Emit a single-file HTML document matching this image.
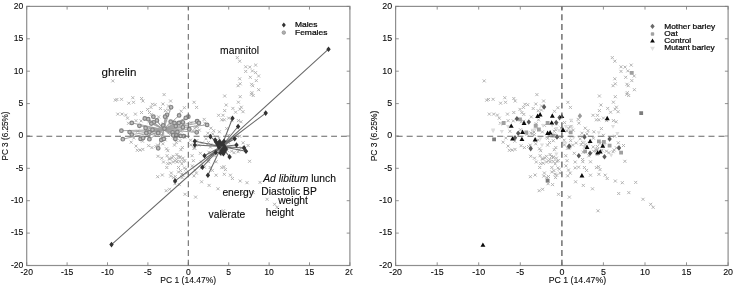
<!DOCTYPE html>
<html><head><meta charset="utf-8"><title>PCA score plots</title>
<style>
html,body{margin:0;padding:0;background:#fff}
svg{display:block}
text{font-family:"Liberation Sans",Arial,sans-serif;fill:#0a0a0a;stroke:#0a0a0a;stroke-width:0.1px}
.t{font-size:7.8px}
.a{font-size:8.4px}
.l{font-size:8.45px;stroke-width:0.25px}
.n{font-size:10.3px}
</style></head><body>
<svg width="736" height="287" viewBox="0 0 736 287">
<rect width="736" height="287" fill="#fff"/>
<path d="M235.8 56.1l3.0 3.0m0 -3.0l-3.0 3.0M238.2 59.7l3.0 3.0m0 -3.0l-3.0 3.0M244.2 65.3l3.0 3.0m0 -3.0l-3.0 3.0M248.3 65.6l3.0 3.0m0 -3.0l-3.0 3.0M254.1 63.6l3.0 3.0m0 -3.0l-3.0 3.0M244.2 69.9l3.0 3.0m0 -3.0l-3.0 3.0M250.9 69.4l3.0 3.0m0 -3.0l-3.0 3.0M254.1 71.1l3.0 3.0m0 -3.0l-3.0 3.0M257.1 74.5l3.0 3.0m0 -3.0l-3.0 3.0M238.2 77.3l3.0 3.0m0 -3.0l-3.0 3.0M248.8 75.8l3.0 3.0m0 -3.0l-3.0 3.0M254.8 79.1l3.0 3.0m0 -3.0l-3.0 3.0M238.7 82.3l3.0 3.0m0 -3.0l-3.0 3.0M236.6 84.2l3.0 3.0m0 -3.0l-3.0 3.0M250.1 82.8l3.0 3.0m0 -3.0l-3.0 3.0M251.2 84.2l3.0 3.0m0 -3.0l-3.0 3.0M257.2 88.2l3.0 3.0m0 -3.0l-3.0 3.0M250.4 91.2l3.0 3.0m0 -3.0l-3.0 3.0M249.9 92.8l3.0 3.0m0 -3.0l-3.0 3.0M251.7 94.0l3.0 3.0m0 -3.0l-3.0 3.0M223.2 94.5l3.0 3.0m0 -3.0l-3.0 3.0M238.7 95.2l3.0 3.0m0 -3.0l-3.0 3.0M236.9 100.7l3.0 3.0m0 -3.0l-3.0 3.0M224.7 103.5l3.0 3.0m0 -3.0l-3.0 3.0M239.8 105.7l3.0 3.0m0 -3.0l-3.0 3.0M231.4 106.9l3.0 3.0m0 -3.0l-3.0 3.0M238.5 107.7l3.0 3.0m0 -3.0l-3.0 3.0M223.2 109.1l3.0 3.0m0 -3.0l-3.0 3.0M241.5 110.2l3.0 3.0m0 -3.0l-3.0 3.0M234.1 110.7l3.0 3.0m0 -3.0l-3.0 3.0M217.1 113.8l3.0 3.0m0 -3.0l-3.0 3.0M221.5 113.8l3.0 3.0m0 -3.0l-3.0 3.0M227.2 116.6l3.0 3.0m0 -3.0l-3.0 3.0M220.3 118.3l3.0 3.0m0 -3.0l-3.0 3.0M222.8 118.3l3.0 3.0m0 -3.0l-3.0 3.0M236.9 119.1l3.0 3.0m0 -3.0l-3.0 3.0M239.5 120.3l3.0 3.0m0 -3.0l-3.0 3.0M230.4 119.1l3.0 3.0m0 -3.0l-3.0 3.0M225.2 127.1l3.0 3.0m0 -3.0l-3.0 3.0M217.9 130.3l3.0 3.0m0 -3.0l-3.0 3.0M212.2 129.2l3.0 3.0m0 -3.0l-3.0 3.0M227.2 133.8l3.0 3.0m0 -3.0l-3.0 3.0M238.2 134.7l3.0 3.0m0 -3.0l-3.0 3.0M230.1 149.7l3.0 3.0m0 -3.0l-3.0 3.0M214.6 160.3l3.0 3.0m0 -3.0l-3.0 3.0M220.3 166.1l3.0 3.0m0 -3.0l-3.0 3.0M223.9 168.1l3.0 3.0m0 -3.0l-3.0 3.0M214.6 173.7l3.0 3.0m0 -3.0l-3.0 3.0M222.8 172.8l3.0 3.0m0 -3.0l-3.0 3.0M228.9 173.7l3.0 3.0m0 -3.0l-3.0 3.0M230.9 177.0l3.0 3.0m0 -3.0l-3.0 3.0M238.7 179.5l3.0 3.0m0 -3.0l-3.0 3.0M245.5 181.2l3.0 3.0m0 -3.0l-3.0 3.0M258.5 180.9l3.0 3.0m0 -3.0l-3.0 3.0M111.3 79.4l3.0 3.0m0 -3.0l-3.0 3.0M113.8 98.7l3.0 3.0m0 -3.0l-3.0 3.0M115.4 98.0l3.0 3.0m0 -3.0l-3.0 3.0M120.0 97.8l3.0 3.0m0 -3.0l-3.0 3.0M127.3 101.7l3.0 3.0m0 -3.0l-3.0 3.0M131.3 96.2l3.0 3.0m0 -3.0l-3.0 3.0M132.0 100.8l3.0 3.0m0 -3.0l-3.0 3.0M140.1 97.0l3.0 3.0m0 -3.0l-3.0 3.0M141.4 99.5l3.0 3.0m0 -3.0l-3.0 3.0M162.6 93.1l3.0 3.0m0 -3.0l-3.0 3.0M150.9 102.8l3.0 3.0m0 -3.0l-3.0 3.0M153.6 103.2l3.0 3.0m0 -3.0l-3.0 3.0M161.4 102.5l3.0 3.0m0 -3.0l-3.0 3.0M169.1 99.5l3.0 3.0m0 -3.0l-3.0 3.0M192.6 100.8l3.0 3.0m0 -3.0l-3.0 3.0M195.1 105.9l3.0 3.0m0 -3.0l-3.0 3.0M149.5 105.9l3.0 3.0m0 -3.0l-3.0 3.0M167.1 104.5l3.0 3.0m0 -3.0l-3.0 3.0M182.9 106.2l3.0 3.0m0 -3.0l-3.0 3.0M116.3 112.6l3.0 3.0m0 -3.0l-3.0 3.0M120.5 112.6l3.0 3.0m0 -3.0l-3.0 3.0M124.2 113.6l3.0 3.0m0 -3.0l-3.0 3.0M126.0 116.7l3.0 3.0m0 -3.0l-3.0 3.0M133.9 112.6l3.0 3.0m0 -3.0l-3.0 3.0M140.0 111.0l3.0 3.0m0 -3.0l-3.0 3.0M146.1 107.9l3.0 3.0m0 -3.0l-3.0 3.0M158.9 107.0l3.0 3.0m0 -3.0l-3.0 3.0M163.8 109.2l3.0 3.0m0 -3.0l-3.0 3.0M166.9 108.5l3.0 3.0m0 -3.0l-3.0 3.0M179.7 109.8l3.0 3.0m0 -3.0l-3.0 3.0M149.8 112.9l3.0 3.0m0 -3.0l-3.0 3.0M148.0 111.0l3.0 3.0m0 -3.0l-3.0 3.0M157.1 115.4l3.0 3.0m0 -3.0l-3.0 3.0M134.5 119.2l3.0 3.0m0 -3.0l-3.0 3.0M189.4 121.1l3.0 3.0m0 -3.0l-3.0 3.0M129.7 140.7l3.0 3.0m0 -3.0l-3.0 3.0M134.5 144.6l3.0 3.0m0 -3.0l-3.0 3.0M135.8 148.8l3.0 3.0m0 -3.0l-3.0 3.0M138.5 148.6l3.0 3.0m0 -3.0l-3.0 3.0M141.3 147.9l3.0 3.0m0 -3.0l-3.0 3.0M150.4 146.1l3.0 3.0m0 -3.0l-3.0 3.0M161.4 142.3l3.0 3.0m0 -3.0l-3.0 3.0M165.0 147.3l3.0 3.0m0 -3.0l-3.0 3.0M166.3 149.2l3.0 3.0m0 -3.0l-3.0 3.0M173.0 143.6l3.0 3.0m0 -3.0l-3.0 3.0M174.8 141.0l3.0 3.0m0 -3.0l-3.0 3.0M178.4 139.2l3.0 3.0m0 -3.0l-3.0 3.0M180.9 146.1l3.0 3.0m0 -3.0l-3.0 3.0M156.5 154.8l3.0 3.0m0 -3.0l-3.0 3.0M160.2 156.7l3.0 3.0m0 -3.0l-3.0 3.0M165.6 154.2l3.0 3.0m0 -3.0l-3.0 3.0M168.7 157.4l3.0 3.0m0 -3.0l-3.0 3.0M171.7 154.8l3.0 3.0m0 -3.0l-3.0 3.0M175.4 153.0l3.0 3.0m0 -3.0l-3.0 3.0M178.4 155.5l3.0 3.0m0 -3.0l-3.0 3.0M181.5 156.7l3.0 3.0m0 -3.0l-3.0 3.0M183.3 159.2l3.0 3.0m0 -3.0l-3.0 3.0M162.0 160.5l3.0 3.0m0 -3.0l-3.0 3.0M166.3 162.1l3.0 3.0m0 -3.0l-3.0 3.0M168.7 161.7l3.0 3.0m0 -3.0l-3.0 3.0M173.6 159.2l3.0 3.0m0 -3.0l-3.0 3.0M178.4 159.9l3.0 3.0m0 -3.0l-3.0 3.0M180.3 162.4l3.0 3.0m0 -3.0l-3.0 3.0M190.6 154.2l3.0 3.0m0 -3.0l-3.0 3.0M191.9 159.2l3.0 3.0m0 -3.0l-3.0 3.0M156.2 175.2l3.0 3.0m0 -3.0l-3.0 3.0M165.3 166.0l3.0 3.0m0 -3.0l-3.0 3.0M181.9 159.8l3.0 3.0m0 -3.0l-3.0 3.0M177.0 166.0l3.0 3.0m0 -3.0l-3.0 3.0M184.3 167.7l3.0 3.0m0 -3.0l-3.0 3.0M177.0 170.5l3.0 3.0m0 -3.0l-3.0 3.0M180.3 172.7l3.0 3.0m0 -3.0l-3.0 3.0M185.1 171.6l3.0 3.0m0 -3.0l-3.0 3.0M172.1 176.1l3.0 3.0m0 -3.0l-3.0 3.0M180.6 176.1l3.0 3.0m0 -3.0l-3.0 3.0M177.8 183.1l3.0 3.0m0 -3.0l-3.0 3.0M168.1 187.8l3.0 3.0m0 -3.0l-3.0 3.0M183.5 192.8l3.0 3.0m0 -3.0l-3.0 3.0M194.1 195.6l3.0 3.0m0 -3.0l-3.0 3.0M199.8 160.5l3.0 3.0m0 -3.0l-3.0 3.0M207.1 160.2l3.0 3.0m0 -3.0l-3.0 3.0M190.8 164.4l3.0 3.0m0 -3.0l-3.0 3.0M193.3 168.5l3.0 3.0m0 -3.0l-3.0 3.0M194.9 171.6l3.0 3.0m0 -3.0l-3.0 3.0M192.5 174.4l3.0 3.0m0 -3.0l-3.0 3.0M199.8 166.4l3.0 3.0m0 -3.0l-3.0 3.0M203.0 165.7l3.0 3.0m0 -3.0l-3.0 3.0M208.7 166.0l3.0 3.0m0 -3.0l-3.0 3.0M210.8 168.9l3.0 3.0m0 -3.0l-3.0 3.0M222.5 165.2l3.0 3.0m0 -3.0l-3.0 3.0M200.1 180.3l3.0 3.0m0 -3.0l-3.0 3.0M207.6 183.9l3.0 3.0m0 -3.0l-3.0 3.0M216.5 187.3l3.0 3.0m0 -3.0l-3.0 3.0M242.1 192.0l3.0 3.0m0 -3.0l-3.0 3.0M251.8 191.1l3.0 3.0m0 -3.0l-3.0 3.0M265.6 197.8l3.0 3.0m0 -3.0l-3.0 3.0M273.1 202.8l3.0 3.0m0 -3.0l-3.0 3.0M275.6 205.8l3.0 3.0m0 -3.0l-3.0 3.0M170.6 156.3l3.0 3.0m0 -3.0l-3.0 3.0M176.7 155.0l3.0 3.0m0 -3.0l-3.0 3.0M202.7 117.9l3.0 3.0m0 -3.0l-3.0 3.0M203.3 121.7l3.0 3.0m0 -3.0l-3.0 3.0M196.0 119.2l3.0 3.0m0 -3.0l-3.0 3.0M194.8 125.5l3.0 3.0m0 -3.0l-3.0 3.0M197.8 128.6l3.0 3.0m0 -3.0l-3.0 3.0M209.4 126.7l3.0 3.0m0 -3.0l-3.0 3.0M206.4 131.7l3.0 3.0m0 -3.0l-3.0 3.0M206.9 158.0l3.0 3.0m0 -3.0l-3.0 3.0M206.9 141.0l3.0 3.0m0 -3.0l-3.0 3.0M204.5 137.3l3.0 3.0m0 -3.0l-3.0 3.0M221.9 209.3l3.0 3.0m0 -3.0l-3.0 3.0M164.1 118.3l3.0 3.0m0 -3.0l-3.0 3.0M147.5 120.3l3.0 3.0m0 -3.0l-3.0 3.0M158.4 130.0l3.0 3.0m0 -3.0l-3.0 3.0M193.2 126.7l3.0 3.0m0 -3.0l-3.0 3.0M161.8 122.3l3.0 3.0m0 -3.0l-3.0 3.0M180.7 128.2l3.0 3.0m0 -3.0l-3.0 3.0M172.0 135.5l3.0 3.0m0 -3.0l-3.0 3.0M156.6 131.4l3.0 3.0m0 -3.0l-3.0 3.0M141.0 139.7l3.0 3.0m0 -3.0l-3.0 3.0M136.3 129.8l3.0 3.0m0 -3.0l-3.0 3.0M159.8 130.5l3.0 3.0m0 -3.0l-3.0 3.0M163.7 138.4l3.0 3.0m0 -3.0l-3.0 3.0M161.3 126.1l3.0 3.0m0 -3.0l-3.0 3.0M174.7 134.6l3.0 3.0m0 -3.0l-3.0 3.0M156.1 143.6l3.0 3.0m0 -3.0l-3.0 3.0M154.4 145.0l3.0 3.0m0 -3.0l-3.0 3.0M139.6 119.4l3.0 3.0m0 -3.0l-3.0 3.0M127.0 121.8l3.0 3.0m0 -3.0l-3.0 3.0M167.8 130.4l3.0 3.0m0 -3.0l-3.0 3.0M170.0 123.9l3.0 3.0m0 -3.0l-3.0 3.0M179.4 129.8l3.0 3.0m0 -3.0l-3.0 3.0M153.0 132.7l3.0 3.0m0 -3.0l-3.0 3.0M146.6 128.3l3.0 3.0m0 -3.0l-3.0 3.0M149.8 119.7l3.0 3.0m0 -3.0l-3.0 3.0M132.3 136.5l3.0 3.0m0 -3.0l-3.0 3.0M147.1 144.2l3.0 3.0m0 -3.0l-3.0 3.0M193.3 146.7l3.0 3.0m0 -3.0l-3.0 3.0M158.0 132.1l3.0 3.0m0 -3.0l-3.0 3.0M189.3 143.4l3.0 3.0m0 -3.0l-3.0 3.0M179.9 133.7l3.0 3.0m0 -3.0l-3.0 3.0M160.0 133.2l3.0 3.0m0 -3.0l-3.0 3.0M172.9 136.8l3.0 3.0m0 -3.0l-3.0 3.0M161.3 125.2l3.0 3.0m0 -3.0l-3.0 3.0M192.3 146.7l3.0 3.0m0 -3.0l-3.0 3.0M241.6 141.3l3.0 3.0m0 -3.0l-3.0 3.0M217.3 145.4l3.0 3.0m0 -3.0l-3.0 3.0M217.5 136.7l3.0 3.0m0 -3.0l-3.0 3.0M225.7 148.8l3.0 3.0m0 -3.0l-3.0 3.0M220.4 148.7l3.0 3.0m0 -3.0l-3.0 3.0M221.0 153.1l3.0 3.0m0 -3.0l-3.0 3.0M248.1 159.8l3.0 3.0m0 -3.0l-3.0 3.0M179.4 148.2l3.0 3.0m0 -3.0l-3.0 3.0M221.4 145.0l3.0 3.0m0 -3.0l-3.0 3.0M220.7 148.4l3.0 3.0m0 -3.0l-3.0 3.0M227.2 141.1l3.0 3.0m0 -3.0l-3.0 3.0M217.7 149.8l3.0 3.0m0 -3.0l-3.0 3.0M246.6 144.0l3.0 3.0m0 -3.0l-3.0 3.0M211.2 132.4l3.0 3.0m0 -3.0l-3.0 3.0M232.5 151.2l3.0 3.0m0 -3.0l-3.0 3.0M208.9 145.5l3.0 3.0m0 -3.0l-3.0 3.0M213.0 154.3l3.0 3.0m0 -3.0l-3.0 3.0M207.4 150.7l3.0 3.0m0 -3.0l-3.0 3.0M236.6 150.2l3.0 3.0m0 -3.0l-3.0 3.0M205.6 143.1l3.0 3.0m0 -3.0l-3.0 3.0M223.9 141.9l3.0 3.0m0 -3.0l-3.0 3.0M237.7 148.5l3.0 3.0m0 -3.0l-3.0 3.0M221.4 147.7l3.0 3.0m0 -3.0l-3.0 3.0M209.4 143.1l3.0 3.0m0 -3.0l-3.0 3.0M239.8 146.3l3.0 3.0m0 -3.0l-3.0 3.0M220.3 149.1l3.0 3.0m0 -3.0l-3.0 3.0M169.2 174.6l3.0 3.0m0 -3.0l-3.0 3.0M173.8 175.0l3.0 3.0m0 -3.0l-3.0 3.0M173.4 182.2l3.0 3.0m0 -3.0l-3.0 3.0M182.9 166.4l3.0 3.0m0 -3.0l-3.0 3.0M164.7 189.2l3.0 3.0m0 -3.0l-3.0 3.0M178.6 156.1l3.0 3.0m0 -3.0l-3.0 3.0M169.8 171.5l3.0 3.0m0 -3.0l-3.0 3.0M171.8 160.5l3.0 3.0m0 -3.0l-3.0 3.0M167.6 157.3l3.0 3.0m0 -3.0l-3.0 3.0M175.0 157.9l3.0 3.0m0 -3.0l-3.0 3.0M179.1 169.1l3.0 3.0m0 -3.0l-3.0 3.0M160.8 173.5l3.0 3.0m0 -3.0l-3.0 3.0M175.5 160.4l3.0 3.0m0 -3.0l-3.0 3.0M181.7 173.6l3.0 3.0m0 -3.0l-3.0 3.0M195.8 124.9l3.0 3.0m0 -3.0l-3.0 3.0M189.0 138.7l3.0 3.0m0 -3.0l-3.0 3.0M186.0 126.6l3.0 3.0m0 -3.0l-3.0 3.0M197.3 143.5l3.0 3.0m0 -3.0l-3.0 3.0M195.4 139.1l3.0 3.0m0 -3.0l-3.0 3.0M181.7 122.4l3.0 3.0m0 -3.0l-3.0 3.0M200.8 141.5l3.0 3.0m0 -3.0l-3.0 3.0M191.8 129.6l3.0 3.0m0 -3.0l-3.0 3.0M183.1 135.6l3.0 3.0m0 -3.0l-3.0 3.0M198.9 151.8l3.0 3.0m0 -3.0l-3.0 3.0" stroke="#b0b0b0" stroke-width="0.95" fill="none"/>
<path d="M163.6 129.6L171.1 107.3M163.6 129.6L153.4 116.7M163.6 129.6L167.0 114.8M163.6 129.6L165.1 116.7M163.6 129.6L179.1 115.4M163.6 129.6L188.3 116.7M163.6 129.6L185.8 117.9M163.6 129.6L144.8 118.5M163.6 129.6L148.2 119.2M163.6 129.6L156.9 120.4M163.6 129.6L153.8 122.3M163.6 129.6L170.7 121.7M163.6 129.6L174.5 122.9M163.6 129.6L178.9 122.9M163.6 129.6L182.9 122.3M163.6 129.6L197.1 121.1M163.6 129.6L131.8 122.9M163.6 129.6L139.4 125.8M163.6 129.6L151.3 123.6M163.6 129.6L163.2 125.4M163.6 129.6L175.8 126.1M163.6 129.6L145.6 128.0M163.6 129.6L164.5 128.6M163.6 129.6L182.9 127.3M163.6 129.6L121.4 130.7M163.6 129.6L129.6 132.1M163.6 129.6L131.8 134.6M163.6 129.6L152.5 129.8M163.6 129.6L158.2 133.0M163.6 129.6L149.4 132.3M163.6 129.6L146.3 133.0M163.6 129.6L172.6 132.3M163.6 129.6L177.4 132.0M163.6 129.6L189.3 129.2M163.6 129.6L196.7 132.3M163.6 129.6L173.2 135.2M163.6 129.6L176.4 135.5M163.6 129.6L180.5 135.9M163.6 129.6L183.9 136.1M163.6 129.6L122.8 139.2M163.6 129.6L140.6 138.9M163.6 129.6L143.1 138.0M163.6 129.6L149.4 139.2M163.6 129.6L161.3 139.9M163.6 129.6L163.8 138.9M163.6 129.6L175.4 138.9M163.6 129.6L158.2 148.3M163.6 129.6L198.9 123.0M163.6 129.6L207.1 124.9" stroke="#9c9c9c" stroke-width="0.9" fill="none"/>
<g fill="#bcbcbc" stroke="#828282" stroke-width="1.2"><circle cx="171.1" cy="107.3" r="1.8"/><circle cx="153.4" cy="116.7" r="1.8"/><circle cx="167.0" cy="114.8" r="1.8"/><circle cx="165.1" cy="116.7" r="1.8"/><circle cx="179.1" cy="115.4" r="1.8"/><circle cx="188.3" cy="116.7" r="1.8"/><circle cx="185.8" cy="117.9" r="1.8"/><circle cx="144.8" cy="118.5" r="1.8"/><circle cx="148.2" cy="119.2" r="1.8"/><circle cx="156.9" cy="120.4" r="1.8"/><circle cx="153.8" cy="122.3" r="1.8"/><circle cx="170.7" cy="121.7" r="1.8"/><circle cx="174.5" cy="122.9" r="1.8"/><circle cx="178.9" cy="122.9" r="1.8"/><circle cx="182.9" cy="122.3" r="1.8"/><circle cx="197.1" cy="121.1" r="1.8"/><circle cx="131.8" cy="122.9" r="1.8"/><circle cx="139.4" cy="125.8" r="1.8"/><circle cx="151.3" cy="123.6" r="1.8"/><circle cx="163.2" cy="125.4" r="1.8"/><circle cx="175.8" cy="126.1" r="1.8"/><circle cx="145.6" cy="128.0" r="1.8"/><circle cx="164.5" cy="128.6" r="1.8"/><circle cx="182.9" cy="127.3" r="1.8"/><circle cx="121.4" cy="130.7" r="1.8"/><circle cx="129.6" cy="132.1" r="1.8"/><circle cx="131.8" cy="134.6" r="1.8"/><circle cx="152.5" cy="129.8" r="1.8"/><circle cx="158.2" cy="133.0" r="1.8"/><circle cx="149.4" cy="132.3" r="1.8"/><circle cx="146.3" cy="133.0" r="1.8"/><circle cx="172.6" cy="132.3" r="1.8"/><circle cx="177.4" cy="132.0" r="1.8"/><circle cx="189.3" cy="129.2" r="1.8"/><circle cx="196.7" cy="132.3" r="1.8"/><circle cx="173.2" cy="135.2" r="1.8"/><circle cx="176.4" cy="135.5" r="1.8"/><circle cx="180.5" cy="135.9" r="1.8"/><circle cx="183.9" cy="136.1" r="1.8"/><circle cx="122.8" cy="139.2" r="1.8"/><circle cx="140.6" cy="138.9" r="1.8"/><circle cx="143.1" cy="138.0" r="1.8"/><circle cx="149.4" cy="139.2" r="1.8"/><circle cx="161.3" cy="139.9" r="1.8"/><circle cx="163.8" cy="138.9" r="1.8"/><circle cx="175.4" cy="138.9" r="1.8"/><circle cx="158.2" cy="148.3" r="1.8"/><circle cx="198.9" cy="123.0" r="1.8"/><circle cx="207.1" cy="124.9" r="1.8"/></g>
<path d="M221.5 146.5L328.5 49.2M221.5 146.5L111.5 244.6M221.5 146.5L232.5 118.3M221.5 146.5L238.1 126.5M221.5 146.5L265.7 113.1M221.5 146.5L210.4 136.6M221.5 146.5L234.7 138.7M221.5 146.5L215.2 140.0M221.5 146.5L215.8 141.8M221.5 146.5L194.8 141.2M221.5 146.5L194.8 145.0M221.5 146.5L224.0 141.2M221.5 146.5L222.7 143.1M221.5 146.5L236.5 145.0M221.5 146.5L244.1 147.9M221.5 146.5L246.0 151.2M221.5 146.5L224.6 151.4M221.5 146.5L223.4 148.7M221.5 146.5L229.6 156.9M221.5 146.5L204.5 155.7M221.5 146.5L215.8 152.5M221.5 146.5L223.4 153.8M221.5 146.5L202.4 167.2M221.5 146.5L207.9 175.2M221.5 146.5L175.1 180.9M221.5 146.5L219.6 141.6M221.5 146.5L221.2 144.2M221.5 146.5L219.0 147.2M221.5 146.5L224.2 146.0M221.5 146.5L222.0 150.2M221.5 146.5L226.0 149.0M221.5 146.5L217.5 144.5M221.5 146.5L220.5 153.0" stroke="#6a6a6a" stroke-width="1.05" fill="none"/>
<path d="M328.5 46.4l2.2 2.8l-2.2 2.8l-2.2 -2.8zM111.5 241.8l2.2 2.8l-2.2 2.8l-2.2 -2.8zM232.5 115.5l2.2 2.8l-2.2 2.8l-2.2 -2.8zM238.1 123.7l2.2 2.8l-2.2 2.8l-2.2 -2.8zM265.7 110.3l2.2 2.8l-2.2 2.8l-2.2 -2.8zM210.4 133.8l2.2 2.8l-2.2 2.8l-2.2 -2.8zM234.7 135.9l2.2 2.8l-2.2 2.8l-2.2 -2.8zM215.2 137.2l2.2 2.8l-2.2 2.8l-2.2 -2.8zM215.8 139.0l2.2 2.8l-2.2 2.8l-2.2 -2.8zM194.8 138.4l2.2 2.8l-2.2 2.8l-2.2 -2.8zM194.8 142.2l2.2 2.8l-2.2 2.8l-2.2 -2.8zM224.0 138.4l2.2 2.8l-2.2 2.8l-2.2 -2.8zM222.7 140.3l2.2 2.8l-2.2 2.8l-2.2 -2.8zM236.5 142.2l2.2 2.8l-2.2 2.8l-2.2 -2.8zM244.1 145.1l2.2 2.8l-2.2 2.8l-2.2 -2.8zM246.0 148.4l2.2 2.8l-2.2 2.8l-2.2 -2.8zM224.6 148.6l2.2 2.8l-2.2 2.8l-2.2 -2.8zM223.4 145.9l2.2 2.8l-2.2 2.8l-2.2 -2.8zM229.6 154.1l2.2 2.8l-2.2 2.8l-2.2 -2.8zM204.5 152.9l2.2 2.8l-2.2 2.8l-2.2 -2.8zM215.8 149.7l2.2 2.8l-2.2 2.8l-2.2 -2.8zM223.4 151.0l2.2 2.8l-2.2 2.8l-2.2 -2.8zM202.4 164.4l2.2 2.8l-2.2 2.8l-2.2 -2.8zM207.9 172.4l2.2 2.8l-2.2 2.8l-2.2 -2.8zM175.1 178.1l2.2 2.8l-2.2 2.8l-2.2 -2.8zM219.6 138.8l2.2 2.8l-2.2 2.8l-2.2 -2.8zM221.2 141.4l2.2 2.8l-2.2 2.8l-2.2 -2.8zM219.0 144.4l2.2 2.8l-2.2 2.8l-2.2 -2.8zM224.2 143.2l2.2 2.8l-2.2 2.8l-2.2 -2.8zM222.0 147.4l2.2 2.8l-2.2 2.8l-2.2 -2.8zM226.0 146.2l2.2 2.8l-2.2 2.8l-2.2 -2.8zM217.5 141.7l2.2 2.8l-2.2 2.8l-2.2 -2.8zM220.5 150.2l2.2 2.8l-2.2 2.8l-2.2 -2.8z" fill="#333"/>
<rect x="26.7" y="6.4" width="323.2" height="259.1" fill="none" stroke="#8e8e8e" stroke-width="1.2"/><path d="M26.7 265.5v-3.2M26.7 6.4v3.2M26.7 265.5h3.2M349.9 265.5h-3.2M67.1 265.5v-3.2M67.1 6.4v3.2M26.7 233.1h3.2M349.9 233.1h-3.2M107.5 265.5v-3.2M107.5 6.4v3.2M26.7 200.7h3.2M349.9 200.7h-3.2M147.9 265.5v-3.2M147.9 6.4v3.2M26.7 168.3h3.2M349.9 168.3h-3.2M188.3 265.5v-3.2M188.3 6.4v3.2M26.7 136.0h3.2M349.9 136.0h-3.2M228.7 265.5v-3.2M228.7 6.4v3.2M26.7 103.6h3.2M349.9 103.6h-3.2M269.1 265.5v-3.2M269.1 6.4v3.2M26.7 71.2h3.2M349.9 71.2h-3.2M309.5 265.5v-3.2M309.5 6.4v3.2M26.7 38.8h3.2M349.9 38.8h-3.2M349.9 265.5v-3.2M349.9 6.4v3.2M26.7 6.4h3.2M349.9 6.4h-3.2" stroke="#808080" stroke-width="0.85" fill="none"/><path d="M26.7 136.3H349.9" stroke="#666" stroke-width="1.05" stroke-dasharray="5.9 3.92" stroke-dashoffset="0" fill="none"/><path d="M188.3 6.4V265.5" stroke="#666" stroke-width="1.05" stroke-dasharray="5.9 3.92" stroke-dashoffset="1.92" fill="none"/><text x="26.7" y="275.4" text-anchor="middle" style="font-size:8.6px">-20</text><text x="23.3" y="267.8" text-anchor="end" style="font-size:8.6px">-20</text><text x="67.1" y="275.4" text-anchor="middle" style="font-size:8.6px">-15</text><text x="23.3" y="235.4" text-anchor="end" style="font-size:8.6px">-15</text><text x="107.5" y="275.4" text-anchor="middle" style="font-size:8.6px">-10</text><text x="23.3" y="203.0" text-anchor="end" style="font-size:8.6px">-10</text><text x="147.9" y="275.4" text-anchor="middle" style="font-size:8.6px">-5</text><text x="23.3" y="170.6" text-anchor="end" style="font-size:8.6px">-5</text><text x="188.3" y="275.4" text-anchor="middle" style="font-size:8.6px">0</text><text x="23.3" y="138.3" text-anchor="end" style="font-size:8.6px">0</text><text x="228.7" y="275.4" text-anchor="middle" style="font-size:8.6px">5</text><text x="23.3" y="105.9" text-anchor="end" style="font-size:8.6px">5</text><text x="269.1" y="275.4" text-anchor="middle" style="font-size:8.6px">10</text><text x="23.3" y="73.5" text-anchor="end" style="font-size:8.6px">10</text><text x="309.5" y="275.4" text-anchor="middle" style="font-size:8.6px">15</text><text x="23.3" y="41.1" text-anchor="end" style="font-size:8.6px">15</text><text x="349.9" y="275.4" text-anchor="middle" style="font-size:8.6px">20</text><text x="23.3" y="8.7" text-anchor="end" style="font-size:8.6px">20</text><text x="188.2" y="283.1" text-anchor="middle" style="font-size:8.5px">PC 1 (14.47%)</text><text transform="translate(8.3 136.0) rotate(-90)" text-anchor="middle" style="font-size:8.20px">PC 3 (6.25%)</text>
<rect x="352.5" y="267" width="12" height="12" fill="#fff"/>
<path d="M283.8 22.4l2.0 2.5l-2.0 2.5l-2.0 -2.5z" fill="#333"/>
<circle cx="283.8" cy="32.6" r="1.7" fill="#b0b0b0" stroke="#909090" stroke-width="0.9"/>
<text transform="translate(295 26.7) scale(1 .95)" class="l">Males</text><text transform="translate(295 34.6) scale(1 .95)" class="l">Females</text>
<text x="101.6" y="75.9" style="font-size:11.6px" class="n">ghrelin</text>
<text x="220.1" y="54.1" style="font-size:10.3px" class="n">mannitol</text>
<text x="263.2" y="182.2" class="n"><tspan font-style="italic">Ad libitum</tspan> lunch</text>
<text x="261.3" y="194.9" class="n">Diastolic BP</text>
<text x="278.2" y="203.6" class="n">weight</text>
<text x="265.8" y="216.1" class="n">height</text>
<text x="222.4" y="195.9" class="n">energy</text>
<text x="208.6" y="218.1" class="n">valerate</text>
<path d="M610.8 56.1l3.0 3.0m0 -3.0l-3.0 3.0M613.3 59.7l3.0 3.0m0 -3.0l-3.0 3.0M619.5 65.3l3.0 3.0m0 -3.0l-3.0 3.0M623.6 65.6l3.0 3.0m0 -3.0l-3.0 3.0M629.7 63.6l3.0 3.0m0 -3.0l-3.0 3.0M619.5 69.9l3.0 3.0m0 -3.0l-3.0 3.0M626.3 69.4l3.0 3.0m0 -3.0l-3.0 3.0M629.7 71.1l3.0 3.0m0 -3.0l-3.0 3.0M632.7 74.5l3.0 3.0m0 -3.0l-3.0 3.0M613.3 77.3l3.0 3.0m0 -3.0l-3.0 3.0M624.2 75.8l3.0 3.0m0 -3.0l-3.0 3.0M630.3 79.1l3.0 3.0m0 -3.0l-3.0 3.0M613.8 82.3l3.0 3.0m0 -3.0l-3.0 3.0M611.6 84.2l3.0 3.0m0 -3.0l-3.0 3.0M625.5 82.8l3.0 3.0m0 -3.0l-3.0 3.0M626.7 84.2l3.0 3.0m0 -3.0l-3.0 3.0M632.9 88.2l3.0 3.0m0 -3.0l-3.0 3.0M625.8 91.2l3.0 3.0m0 -3.0l-3.0 3.0M625.3 92.8l3.0 3.0m0 -3.0l-3.0 3.0M627.2 94.0l3.0 3.0m0 -3.0l-3.0 3.0M597.9 94.5l3.0 3.0m0 -3.0l-3.0 3.0M613.8 95.2l3.0 3.0m0 -3.0l-3.0 3.0M611.9 100.7l3.0 3.0m0 -3.0l-3.0 3.0M599.4 103.5l3.0 3.0m0 -3.0l-3.0 3.0M614.9 105.7l3.0 3.0m0 -3.0l-3.0 3.0M606.2 106.9l3.0 3.0m0 -3.0l-3.0 3.0M613.6 107.7l3.0 3.0m0 -3.0l-3.0 3.0M597.9 109.1l3.0 3.0m0 -3.0l-3.0 3.0M616.6 110.2l3.0 3.0m0 -3.0l-3.0 3.0M609.1 110.7l3.0 3.0m0 -3.0l-3.0 3.0M591.5 113.8l3.0 3.0m0 -3.0l-3.0 3.0M596.0 113.8l3.0 3.0m0 -3.0l-3.0 3.0M601.9 116.6l3.0 3.0m0 -3.0l-3.0 3.0M594.9 118.3l3.0 3.0m0 -3.0l-3.0 3.0M597.4 118.3l3.0 3.0m0 -3.0l-3.0 3.0M611.9 119.1l3.0 3.0m0 -3.0l-3.0 3.0M614.6 120.3l3.0 3.0m0 -3.0l-3.0 3.0M605.2 119.1l3.0 3.0m0 -3.0l-3.0 3.0M599.9 127.1l3.0 3.0m0 -3.0l-3.0 3.0M592.4 130.3l3.0 3.0m0 -3.0l-3.0 3.0M586.5 129.2l3.0 3.0m0 -3.0l-3.0 3.0M601.9 133.8l3.0 3.0m0 -3.0l-3.0 3.0M613.3 134.7l3.0 3.0m0 -3.0l-3.0 3.0M604.9 149.7l3.0 3.0m0 -3.0l-3.0 3.0M589.0 160.3l3.0 3.0m0 -3.0l-3.0 3.0M594.9 166.1l3.0 3.0m0 -3.0l-3.0 3.0M598.5 168.1l3.0 3.0m0 -3.0l-3.0 3.0M589.0 173.7l3.0 3.0m0 -3.0l-3.0 3.0M597.4 172.8l3.0 3.0m0 -3.0l-3.0 3.0M603.7 173.7l3.0 3.0m0 -3.0l-3.0 3.0M605.7 177.0l3.0 3.0m0 -3.0l-3.0 3.0M613.8 179.5l3.0 3.0m0 -3.0l-3.0 3.0M620.8 181.2l3.0 3.0m0 -3.0l-3.0 3.0M634.2 180.9l3.0 3.0m0 -3.0l-3.0 3.0M482.7 79.4l3.0 3.0m0 -3.0l-3.0 3.0M485.2 98.7l3.0 3.0m0 -3.0l-3.0 3.0M486.9 98.0l3.0 3.0m0 -3.0l-3.0 3.0M491.6 97.8l3.0 3.0m0 -3.0l-3.0 3.0M499.1 101.7l3.0 3.0m0 -3.0l-3.0 3.0M503.3 96.2l3.0 3.0m0 -3.0l-3.0 3.0M504.0 100.8l3.0 3.0m0 -3.0l-3.0 3.0M512.3 97.0l3.0 3.0m0 -3.0l-3.0 3.0M513.7 99.5l3.0 3.0m0 -3.0l-3.0 3.0M535.4 93.1l3.0 3.0m0 -3.0l-3.0 3.0M523.4 102.8l3.0 3.0m0 -3.0l-3.0 3.0M526.2 103.2l3.0 3.0m0 -3.0l-3.0 3.0M534.3 102.5l3.0 3.0m0 -3.0l-3.0 3.0M542.1 99.5l3.0 3.0m0 -3.0l-3.0 3.0M566.4 100.8l3.0 3.0m0 -3.0l-3.0 3.0M568.9 105.9l3.0 3.0m0 -3.0l-3.0 3.0M522.0 105.9l3.0 3.0m0 -3.0l-3.0 3.0M540.1 104.5l3.0 3.0m0 -3.0l-3.0 3.0M556.4 106.2l3.0 3.0m0 -3.0l-3.0 3.0M487.8 112.6l3.0 3.0m0 -3.0l-3.0 3.0M492.2 112.6l3.0 3.0m0 -3.0l-3.0 3.0M495.9 113.6l3.0 3.0m0 -3.0l-3.0 3.0M497.8 116.7l3.0 3.0m0 -3.0l-3.0 3.0M506.0 112.6l3.0 3.0m0 -3.0l-3.0 3.0M512.3 111.0l3.0 3.0m0 -3.0l-3.0 3.0M518.5 107.9l3.0 3.0m0 -3.0l-3.0 3.0M531.7 107.0l3.0 3.0m0 -3.0l-3.0 3.0M536.7 109.2l3.0 3.0m0 -3.0l-3.0 3.0M539.9 108.5l3.0 3.0m0 -3.0l-3.0 3.0M553.0 109.8l3.0 3.0m0 -3.0l-3.0 3.0M522.3 112.9l3.0 3.0m0 -3.0l-3.0 3.0M520.4 111.0l3.0 3.0m0 -3.0l-3.0 3.0M529.8 115.4l3.0 3.0m0 -3.0l-3.0 3.0M506.6 119.2l3.0 3.0m0 -3.0l-3.0 3.0M563.1 121.1l3.0 3.0m0 -3.0l-3.0 3.0M501.6 140.7l3.0 3.0m0 -3.0l-3.0 3.0M506.6 144.6l3.0 3.0m0 -3.0l-3.0 3.0M507.9 148.8l3.0 3.0m0 -3.0l-3.0 3.0M510.6 148.6l3.0 3.0m0 -3.0l-3.0 3.0M513.5 147.9l3.0 3.0m0 -3.0l-3.0 3.0M522.9 146.1l3.0 3.0m0 -3.0l-3.0 3.0M534.2 142.3l3.0 3.0m0 -3.0l-3.0 3.0M538.0 147.3l3.0 3.0m0 -3.0l-3.0 3.0M539.2 149.2l3.0 3.0m0 -3.0l-3.0 3.0M546.1 143.6l3.0 3.0m0 -3.0l-3.0 3.0M548.0 141.0l3.0 3.0m0 -3.0l-3.0 3.0M551.8 139.2l3.0 3.0m0 -3.0l-3.0 3.0M554.3 146.1l3.0 3.0m0 -3.0l-3.0 3.0M529.2 154.8l3.0 3.0m0 -3.0l-3.0 3.0M533.0 156.7l3.0 3.0m0 -3.0l-3.0 3.0M538.6 154.2l3.0 3.0m0 -3.0l-3.0 3.0M541.7 157.4l3.0 3.0m0 -3.0l-3.0 3.0M544.9 154.8l3.0 3.0m0 -3.0l-3.0 3.0M548.6 153.0l3.0 3.0m0 -3.0l-3.0 3.0M551.8 155.5l3.0 3.0m0 -3.0l-3.0 3.0M554.9 156.7l3.0 3.0m0 -3.0l-3.0 3.0M556.8 159.2l3.0 3.0m0 -3.0l-3.0 3.0M534.8 160.5l3.0 3.0m0 -3.0l-3.0 3.0M539.2 162.1l3.0 3.0m0 -3.0l-3.0 3.0M541.7 161.7l3.0 3.0m0 -3.0l-3.0 3.0M546.8 159.2l3.0 3.0m0 -3.0l-3.0 3.0M551.8 159.9l3.0 3.0m0 -3.0l-3.0 3.0M553.7 162.4l3.0 3.0m0 -3.0l-3.0 3.0M564.3 154.2l3.0 3.0m0 -3.0l-3.0 3.0M565.6 159.2l3.0 3.0m0 -3.0l-3.0 3.0M528.9 175.2l3.0 3.0m0 -3.0l-3.0 3.0M538.2 166.0l3.0 3.0m0 -3.0l-3.0 3.0M555.3 159.8l3.0 3.0m0 -3.0l-3.0 3.0M550.3 166.0l3.0 3.0m0 -3.0l-3.0 3.0M557.8 167.7l3.0 3.0m0 -3.0l-3.0 3.0M550.3 170.5l3.0 3.0m0 -3.0l-3.0 3.0M553.6 172.7l3.0 3.0m0 -3.0l-3.0 3.0M558.7 171.6l3.0 3.0m0 -3.0l-3.0 3.0M545.3 176.1l3.0 3.0m0 -3.0l-3.0 3.0M554.0 176.1l3.0 3.0m0 -3.0l-3.0 3.0M551.1 183.1l3.0 3.0m0 -3.0l-3.0 3.0M541.1 187.8l3.0 3.0m0 -3.0l-3.0 3.0M557.0 192.8l3.0 3.0m0 -3.0l-3.0 3.0M567.9 195.6l3.0 3.0m0 -3.0l-3.0 3.0M573.7 160.5l3.0 3.0m0 -3.0l-3.0 3.0M581.3 160.2l3.0 3.0m0 -3.0l-3.0 3.0M564.5 164.4l3.0 3.0m0 -3.0l-3.0 3.0M567.0 168.5l3.0 3.0m0 -3.0l-3.0 3.0M568.7 171.6l3.0 3.0m0 -3.0l-3.0 3.0M566.2 174.4l3.0 3.0m0 -3.0l-3.0 3.0M573.7 166.4l3.0 3.0m0 -3.0l-3.0 3.0M577.1 165.7l3.0 3.0m0 -3.0l-3.0 3.0M582.9 166.0l3.0 3.0m0 -3.0l-3.0 3.0M585.1 168.9l3.0 3.0m0 -3.0l-3.0 3.0M597.1 165.2l3.0 3.0m0 -3.0l-3.0 3.0M574.1 180.3l3.0 3.0m0 -3.0l-3.0 3.0M581.8 183.9l3.0 3.0m0 -3.0l-3.0 3.0M591.0 187.3l3.0 3.0m0 -3.0l-3.0 3.0M617.2 192.0l3.0 3.0m0 -3.0l-3.0 3.0M627.3 191.1l3.0 3.0m0 -3.0l-3.0 3.0M641.5 197.8l3.0 3.0m0 -3.0l-3.0 3.0M649.2 202.8l3.0 3.0m0 -3.0l-3.0 3.0M651.7 205.8l3.0 3.0m0 -3.0l-3.0 3.0M543.7 156.3l3.0 3.0m0 -3.0l-3.0 3.0M550.0 155.0l3.0 3.0m0 -3.0l-3.0 3.0M576.7 117.9l3.0 3.0m0 -3.0l-3.0 3.0M577.4 121.7l3.0 3.0m0 -3.0l-3.0 3.0M569.8 119.2l3.0 3.0m0 -3.0l-3.0 3.0M568.6 125.5l3.0 3.0m0 -3.0l-3.0 3.0M571.7 128.6l3.0 3.0m0 -3.0l-3.0 3.0M583.7 126.7l3.0 3.0m0 -3.0l-3.0 3.0M580.5 131.7l3.0 3.0m0 -3.0l-3.0 3.0M581.1 158.0l3.0 3.0m0 -3.0l-3.0 3.0M581.1 141.0l3.0 3.0m0 -3.0l-3.0 3.0M578.6 137.3l3.0 3.0m0 -3.0l-3.0 3.0M596.5 209.3l3.0 3.0m0 -3.0l-3.0 3.0M537.0 118.3l3.0 3.0m0 -3.0l-3.0 3.0M519.9 120.3l3.0 3.0m0 -3.0l-3.0 3.0M531.1 130.0l3.0 3.0m0 -3.0l-3.0 3.0M567.0 126.7l3.0 3.0m0 -3.0l-3.0 3.0M534.7 122.3l3.0 3.0m0 -3.0l-3.0 3.0M554.1 128.2l3.0 3.0m0 -3.0l-3.0 3.0M545.2 135.5l3.0 3.0m0 -3.0l-3.0 3.0M529.3 131.4l3.0 3.0m0 -3.0l-3.0 3.0M513.3 139.7l3.0 3.0m0 -3.0l-3.0 3.0M508.4 129.8l3.0 3.0m0 -3.0l-3.0 3.0M532.5 130.5l3.0 3.0m0 -3.0l-3.0 3.0M536.6 138.4l3.0 3.0m0 -3.0l-3.0 3.0M534.1 126.1l3.0 3.0m0 -3.0l-3.0 3.0M547.9 134.6l3.0 3.0m0 -3.0l-3.0 3.0M528.8 143.6l3.0 3.0m0 -3.0l-3.0 3.0M527.0 145.0l3.0 3.0m0 -3.0l-3.0 3.0M511.8 119.4l3.0 3.0m0 -3.0l-3.0 3.0M498.8 121.8l3.0 3.0m0 -3.0l-3.0 3.0M540.9 130.4l3.0 3.0m0 -3.0l-3.0 3.0M543.0 123.9l3.0 3.0m0 -3.0l-3.0 3.0M552.8 129.8l3.0 3.0m0 -3.0l-3.0 3.0M525.6 132.7l3.0 3.0m0 -3.0l-3.0 3.0M519.0 128.3l3.0 3.0m0 -3.0l-3.0 3.0M522.3 119.7l3.0 3.0m0 -3.0l-3.0 3.0M504.3 136.5l3.0 3.0m0 -3.0l-3.0 3.0M519.6 144.2l3.0 3.0m0 -3.0l-3.0 3.0M567.0 146.7l3.0 3.0m0 -3.0l-3.0 3.0M530.7 132.1l3.0 3.0m0 -3.0l-3.0 3.0M562.9 143.4l3.0 3.0m0 -3.0l-3.0 3.0M553.2 133.7l3.0 3.0m0 -3.0l-3.0 3.0M532.8 133.2l3.0 3.0m0 -3.0l-3.0 3.0M546.1 136.8l3.0 3.0m0 -3.0l-3.0 3.0M534.1 125.2l3.0 3.0m0 -3.0l-3.0 3.0M566.0 146.7l3.0 3.0m0 -3.0l-3.0 3.0M616.8 141.3l3.0 3.0m0 -3.0l-3.0 3.0M591.7 145.4l3.0 3.0m0 -3.0l-3.0 3.0M591.9 136.7l3.0 3.0m0 -3.0l-3.0 3.0M600.4 148.8l3.0 3.0m0 -3.0l-3.0 3.0M594.9 148.7l3.0 3.0m0 -3.0l-3.0 3.0M595.6 153.1l3.0 3.0m0 -3.0l-3.0 3.0M623.4 159.8l3.0 3.0m0 -3.0l-3.0 3.0M552.8 148.2l3.0 3.0m0 -3.0l-3.0 3.0M595.9 145.0l3.0 3.0m0 -3.0l-3.0 3.0M595.2 148.4l3.0 3.0m0 -3.0l-3.0 3.0M601.9 141.1l3.0 3.0m0 -3.0l-3.0 3.0M592.2 149.8l3.0 3.0m0 -3.0l-3.0 3.0M622.0 144.0l3.0 3.0m0 -3.0l-3.0 3.0M585.5 132.4l3.0 3.0m0 -3.0l-3.0 3.0M607.4 151.2l3.0 3.0m0 -3.0l-3.0 3.0M583.1 145.5l3.0 3.0m0 -3.0l-3.0 3.0M587.4 154.3l3.0 3.0m0 -3.0l-3.0 3.0M581.6 150.7l3.0 3.0m0 -3.0l-3.0 3.0M611.6 150.2l3.0 3.0m0 -3.0l-3.0 3.0M579.7 143.1l3.0 3.0m0 -3.0l-3.0 3.0M598.6 141.9l3.0 3.0m0 -3.0l-3.0 3.0M612.7 148.5l3.0 3.0m0 -3.0l-3.0 3.0M596.0 147.7l3.0 3.0m0 -3.0l-3.0 3.0M583.6 143.1l3.0 3.0m0 -3.0l-3.0 3.0M614.9 146.3l3.0 3.0m0 -3.0l-3.0 3.0M594.8 149.1l3.0 3.0m0 -3.0l-3.0 3.0M542.3 174.6l3.0 3.0m0 -3.0l-3.0 3.0M547.0 175.0l3.0 3.0m0 -3.0l-3.0 3.0M546.6 182.2l3.0 3.0m0 -3.0l-3.0 3.0M556.4 166.4l3.0 3.0m0 -3.0l-3.0 3.0M537.7 189.2l3.0 3.0m0 -3.0l-3.0 3.0M551.9 156.1l3.0 3.0m0 -3.0l-3.0 3.0M542.9 171.5l3.0 3.0m0 -3.0l-3.0 3.0M545.0 160.5l3.0 3.0m0 -3.0l-3.0 3.0M540.6 157.3l3.0 3.0m0 -3.0l-3.0 3.0M548.3 157.9l3.0 3.0m0 -3.0l-3.0 3.0M552.4 169.1l3.0 3.0m0 -3.0l-3.0 3.0M533.6 173.5l3.0 3.0m0 -3.0l-3.0 3.0M548.8 160.4l3.0 3.0m0 -3.0l-3.0 3.0M555.1 173.6l3.0 3.0m0 -3.0l-3.0 3.0M569.6 124.9l3.0 3.0m0 -3.0l-3.0 3.0M562.7 138.7l3.0 3.0m0 -3.0l-3.0 3.0M559.6 126.6l3.0 3.0m0 -3.0l-3.0 3.0M571.2 143.5l3.0 3.0m0 -3.0l-3.0 3.0M569.2 139.1l3.0 3.0m0 -3.0l-3.0 3.0M555.1 122.4l3.0 3.0m0 -3.0l-3.0 3.0M574.7 141.5l3.0 3.0m0 -3.0l-3.0 3.0M565.5 129.6l3.0 3.0m0 -3.0l-3.0 3.0M556.5 135.6l3.0 3.0m0 -3.0l-3.0 3.0M572.8 151.8l3.0 3.0m0 -3.0l-3.0 3.0" stroke="#b0b0b0" stroke-width="0.95" fill="none"/>
<path d="M493.1 132.4l2.1 -3.8h-4.2zM508.1 128.9l2.1 -3.8h-4.2zM532.6 132.6l2.1 -3.8h-4.2zM556.4 130.8l2.1 -3.8h-4.2zM493.1 133.2l2.1 -3.8h-4.2zM501.8 133.8l2.1 -3.8h-4.2zM613.0 128.7l2.1 -3.8h-4.2zM571.3 122.6l2.1 -3.8h-4.2zM565.9 128.9l2.1 -3.8h-4.2zM570.3 150.5l2.1 -3.8h-4.2zM565.6 145.5l2.1 -3.8h-4.2zM571.9 130.3l2.1 -3.8h-4.2zM563.1 144.5l2.1 -3.8h-4.2zM543.0 127.7l2.1 -3.8h-4.2zM535.3 131.4l2.1 -3.8h-4.2zM570.4 139.4l2.1 -3.8h-4.2zM617.4 135.8l2.1 -3.8h-4.2zM611.2 157.5l2.1 -3.8h-4.2zM501.7 126.4l2.1 -3.8h-4.2zM573.6 139.8l2.1 -3.8h-4.2zM556.4 156.3l2.1 -3.8h-4.2zM542.0 147.3l2.1 -3.8h-4.2zM552.2 127.4l2.1 -3.8h-4.2zM559.0 132.7l2.1 -3.8h-4.2zM540.3 141.1l2.1 -3.8h-4.2zM560.5 139.5l2.1 -3.8h-4.2zM589.2 145.6l2.1 -3.8h-4.2zM604.9 146.7l2.1 -3.8h-4.2zM584.1 144.6l2.1 -3.8h-4.2zM598.8 135.1l2.1 -3.8h-4.2z" fill="#dedede"/>
<path d="M501.8 121.1h3.8v3.8h-3.8zM518.1 117.5h3.8v3.8h-3.8zM533.8 123.8h3.8v3.8h-3.8zM545.7 121.1h3.8v3.8h-3.8zM537.0 127.6h3.8v3.8h-3.8zM524.4 130.6h3.8v3.8h-3.8zM551.4 133.7h3.8v3.8h-3.8zM568.8 130.4h3.8v3.8h-3.8zM602.0 140.0h3.8v3.8h-3.8zM607.7 143.8h3.8v3.8h-3.8zM583.2 149.4h3.8v3.8h-3.8zM619.2 150.7h3.8v3.8h-3.8zM597.0 139.4h3.8v3.8h-3.8zM629.9 71.0h3.8v3.8h-3.8zM568.8 130.5h3.8v3.8h-3.8z" fill="#a0a0a0"/>
<path d="M492.2 137.5h3.8v3.8h-3.8zM639.3 111.2h3.8v3.8h-3.8zM545.7 178.7h3.8v3.8h-3.8z" fill="#7c7c7c"/>
<path d="M579.9 113.1l2.2 2.8l-2.2 2.8l-2.2 -2.8z" fill="#9a9a9a"/>
<path d="M544.1 104.1l2.2 2.8l-2.2 2.8l-2.2 -2.8zM559.6 114.8l2.2 2.8l-2.2 2.8l-2.2 -2.8zM556.2 119.8l2.2 2.8l-2.2 2.8l-2.2 -2.8zM516.9 116.0l2.2 2.8l-2.2 2.8l-2.2 -2.8zM528.8 119.2l2.2 2.8l-2.2 2.8l-2.2 -2.8zM518.2 130.4l2.2 2.8l-2.2 2.8l-2.2 -2.8zM515.0 135.0l2.2 2.8l-2.2 2.8l-2.2 -2.8zM530.7 145.8l2.2 2.8l-2.2 2.8l-2.2 -2.8zM557.0 134.1l2.2 2.8l-2.2 2.8l-2.2 -2.8zM569.0 143.5l2.2 2.8l-2.2 2.8l-2.2 -2.8zM609.6 136.2l2.2 2.8l-2.2 2.8l-2.2 -2.8zM569.4 143.5l2.2 2.8l-2.2 2.8l-2.2 -2.8zM619.0 145.1l2.2 2.8l-2.2 2.8l-2.2 -2.8zM590.1 150.4l2.2 2.8l-2.2 2.8l-2.2 -2.8zM578.8 152.9l2.2 2.8l-2.2 2.8l-2.2 -2.8zM604.5 153.9l2.2 2.8l-2.2 2.8l-2.2 -2.8zM584.5 134.1l2.2 2.8l-2.2 2.8l-2.2 -2.8z" fill="#5a5a5a"/>
<path d="M540.1 112.1l2.5 4.4h-4.9zM537.6 113.6l2.5 4.4h-4.9zM552.3 113.3l2.5 4.4h-4.9zM561.8 113.7l2.5 4.4h-4.9zM524.0 120.5l2.5 4.4h-4.9zM551.7 120.2l2.5 4.4h-4.9zM511.2 123.4l2.5 4.4h-4.9zM562.9 127.1l2.5 4.4h-4.9zM522.5 129.6l2.5 4.4h-4.9zM550.1 130.0l2.5 4.4h-4.9zM547.6 130.5l2.5 4.4h-4.9zM512.5 136.2l2.5 4.4h-4.9zM521.9 136.7l2.5 4.4h-4.9zM535.1 137.1l2.5 4.4h-4.9zM563.3 127.7l2.5 4.4h-4.9zM590.1 138.7l2.5 4.4h-4.9zM587.0 144.6l2.5 4.4h-4.9zM597.6 150.2l2.5 4.4h-4.9zM600.2 149.2l2.5 4.4h-4.9zM602.7 143.3l2.5 4.4h-4.9zM607.2 115.8l2.5 4.4h-4.9zM581.9 173.0l2.5 4.4h-4.9zM482.9 242.4l2.5 4.4h-4.9z" fill="#0a0a0a"/>
<rect x="395.6" y="6.4" width="332.5" height="259.1" fill="none" stroke="#8e8e8e" stroke-width="1.2"/><path d="M395.6 265.5v-3.2M395.6 6.4v3.2M395.6 265.5h3.2M728.1 265.5h-3.2M437.2 265.5v-3.2M437.2 6.4v3.2M395.6 233.1h3.2M728.1 233.1h-3.2M478.7 265.5v-3.2M478.7 6.4v3.2M395.6 200.7h3.2M728.1 200.7h-3.2M520.3 265.5v-3.2M520.3 6.4v3.2M395.6 168.3h3.2M728.1 168.3h-3.2M561.9 265.5v-3.2M561.9 6.4v3.2M395.6 136.0h3.2M728.1 136.0h-3.2M603.4 265.5v-3.2M603.4 6.4v3.2M395.6 103.6h3.2M728.1 103.6h-3.2M645.0 265.5v-3.2M645.0 6.4v3.2M395.6 71.2h3.2M728.1 71.2h-3.2M686.5 265.5v-3.2M686.5 6.4v3.2M395.6 38.8h3.2M728.1 38.8h-3.2M728.1 265.5v-3.2M728.1 6.4v3.2M395.6 6.4h3.2M728.1 6.4h-3.2" stroke="#808080" stroke-width="0.85" fill="none"/><path d="M395.6 136.3H728.1" stroke="#666" stroke-width="1.1" stroke-dasharray="6.04 4.02" stroke-dashoffset="-1.0" fill="none"/><path d="M561.9 6.4V265.5" stroke="#666" stroke-width="1.4" stroke-dasharray="5.9 3.92" stroke-dashoffset="1.92" fill="none"/><text x="395.6" y="275.4" text-anchor="middle" style="font-size:8.9px">-20</text><text x="392.2" y="267.8" text-anchor="end" style="font-size:8.9px">-20</text><text x="437.2" y="275.4" text-anchor="middle" style="font-size:8.9px">-15</text><text x="392.2" y="235.4" text-anchor="end" style="font-size:8.9px">-15</text><text x="478.7" y="275.4" text-anchor="middle" style="font-size:8.9px">-10</text><text x="392.2" y="203.0" text-anchor="end" style="font-size:8.9px">-10</text><text x="520.3" y="275.4" text-anchor="middle" style="font-size:8.9px">-5</text><text x="392.2" y="170.6" text-anchor="end" style="font-size:8.9px">-5</text><text x="561.9" y="275.4" text-anchor="middle" style="font-size:8.9px">0</text><text x="392.2" y="138.3" text-anchor="end" style="font-size:8.9px">0</text><text x="603.4" y="275.4" text-anchor="middle" style="font-size:8.9px">5</text><text x="392.2" y="105.9" text-anchor="end" style="font-size:8.9px">5</text><text x="645.0" y="275.4" text-anchor="middle" style="font-size:8.9px">10</text><text x="392.2" y="73.5" text-anchor="end" style="font-size:8.9px">10</text><text x="686.5" y="275.4" text-anchor="middle" style="font-size:8.9px">15</text><text x="392.2" y="41.1" text-anchor="end" style="font-size:8.9px">15</text><text x="728.1" y="275.4" text-anchor="middle" style="font-size:8.9px">20</text><text x="392.2" y="8.7" text-anchor="end" style="font-size:8.9px">20</text><text x="577.4" y="283.1" text-anchor="middle" style="font-size:8.75px">PC 1 (14.47%)</text><text transform="translate(377.2 136.0) rotate(-90)" text-anchor="middle" style="font-size:8.44px">PC 3 (6.25%)</text>
<path d="M652.5 23.7l2.2 2.6l-2.2 2.6l-2.2 -2.6z" fill="#6a6a6a"/>
<rect x="650.8" y="32.3" width="3.4" height="3.4" rx="0.8" fill="#a2a2a2"/>
<path d="M652.5 38.5l2.4 4.1h-4.8z" fill="#0a0a0a"/>
<path d="M652.5 50.9l2.4 -4.2h-4.8z" fill="#dedede"/>
<text transform="translate(664.3 28.5) scale(1 .95)" class="l" style="font-size:8.35px">Mother barley</text>
<text transform="translate(664.3 35.8) scale(1 .95)" class="l" style="font-size:8.35px">Oat</text>
<text transform="translate(664.3 43.0) scale(1 .95)" class="l" style="font-size:8.35px">Control</text>
<text transform="translate(664.3 50.2) scale(1 .95)" class="l" style="font-size:8.35px">Mutant barley</text>
</svg>
</body></html>
